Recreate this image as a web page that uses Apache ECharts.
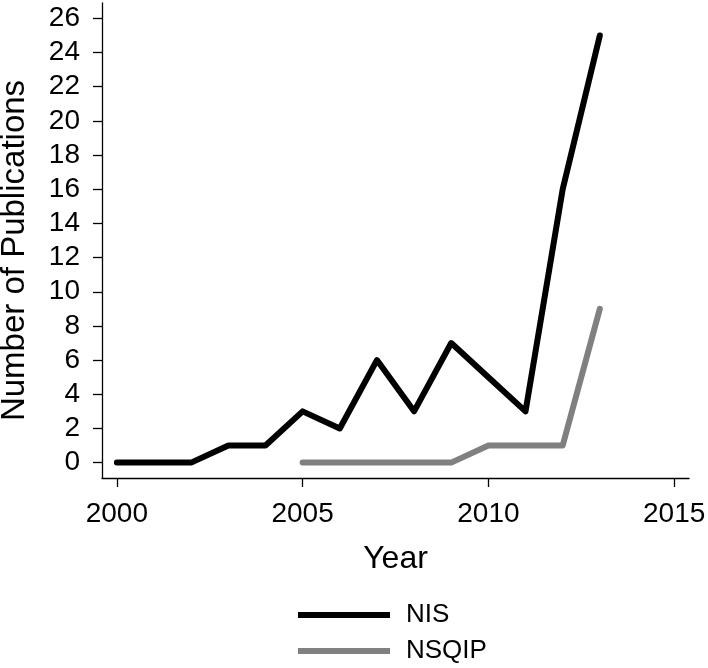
<!DOCTYPE html>
<html>
<head>
<meta charset="utf-8">
<script src="https://cdn.jsdelivr.net/npm/echarts@6/dist/echarts.min.js"></script>
<style>
  html, body { margin: 0; padding: 0; background: #fff; }
  #chart { width: 708px; height: 668px; }
</style>
</head>
<body>
<div id="chart"></div>
<script>
const nisYears = [2000, 2001, 2002, 2003, 2004, 2005, 2006, 2007, 2008, 2009, 2010, 2011, 2012, 2013]
const nisCounts = [0, 0, 0, 1, 1, 3, 2, 6, 3, 7, 5, 3, 16, 25]
const nsqipYears = [2005, 2006, 2007, 2008, 2009, 2010, 2011, 2012, 2013]
const nsqipCounts = [0, 0, 0, 0, 0, 1, 1, 1, 9]
const xTicks = [2000, 2005, 2010, 2015]
const yTicks = [0, 2, 4, 6, 8, 10, 12, 14, 16, 18, 20, 22, 24, 26]

const font = '"Liberation Sans", Arial, Helvetica, sans-serif'
const chart = echarts.init(document.getElementById('chart'))

chart.setOption({
  animation: false,
  grid: { left: 102, right: 19, top: 3, bottom: 190, containLabel: false, outerBoundsMode: 'none' },
  legend: {
    orient: 'vertical',
    left: 298,
    top: 602,
    padding: 0,
    icon: 'rect',
    itemWidth: 92,
    itemHeight: 6,
    itemGap: 10,
    textStyle: { fontFamily: font, fontSize: 26, color: '#000', padding: [0, 0, 0, 11] },
    data: ['NIS', 'NSQIP'],
  },
  xAxis: {
    type: 'value',
    min: 1999.6,
    max: 2015.4,
    name: 'Year',
    nameLocation: 'middle',
    nameGap: 65,
    nameTextStyle: { fontFamily: font, fontSize: 32, color: '#000' },
    splitLine: { show: false },
    axisLine: { onZero: false, lineStyle: { color: '#000', width: 1.3 } },
    axisTick: { show: true, length: 9, customValues: xTicks, lineStyle: { color: '#000', width: 1.3 } },
    axisLabel: {
      customValues: xTicks,
      formatter: v => String(v),
      margin: 22,
      fontFamily: font, fontSize: 28, color: '#000',
    },
  },
  yAxis: {
    type: 'value',
    min: -0.9,
    max: 26.9,
    name: 'Number of Publications',
    nameLocation: 'middle',
    nameGap: 71,
    nameTextStyle: { fontFamily: font, fontSize: 33, color: '#000', padding: [0, 20, 0, 0] },
    splitLine: { show: false },
    axisLine: { show: true, onZero: false, lineStyle: { color: '#000', width: 1.3 } },
    axisTick: { show: true, length: 9, customValues: yTicks, lineStyle: { color: '#000', width: 1.3 } },
    axisLabel: {
      customValues: yTicks,
      margin: 22,
      fontFamily: font, fontSize: 28, color: '#000',
    },
  },
  series: [
    {
      name: 'NIS',
      type: 'line',
      data: nisYears.map((y, i) => [y, nisCounts[i]]),
      showSymbol: false,
      symbol: 'none',
      color: '#000',
      lineStyle: { color: '#000', width: 6, cap: 'round', join: 'round' },
    },
    {
      name: 'NSQIP',
      type: 'line',
      data: nsqipYears.map((y, i) => [y, nsqipCounts[i]]),
      showSymbol: false,
      symbol: 'none',
      color: '#808080',
      lineStyle: { color: '#808080', width: 6, cap: 'round', join: 'round' },
    },
  ],
})
</script>
</body>
</html>
